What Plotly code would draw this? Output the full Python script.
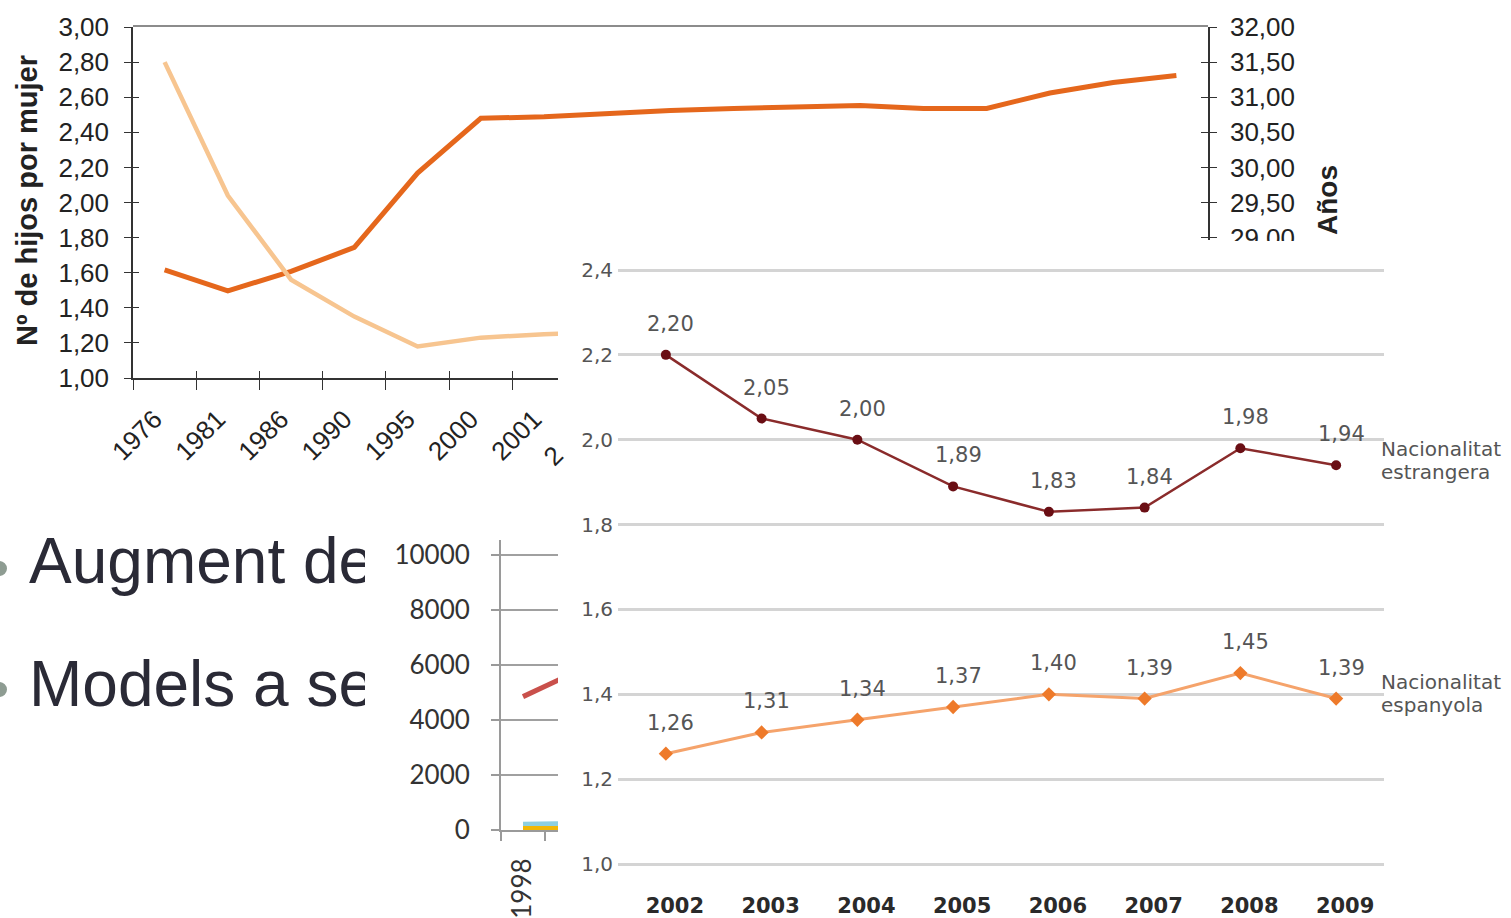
import plotly.graph_objects as go

W, H = 1511, 918

# ---------------- data ----------------
top_years = ["1976", "1981", "1986", "1990", "1995", "2000", "2001", "2002", "2003",
             "2004", "2005", "2006", "2007", "2008", "2009", "2010", "2011"]
edad_media = [28.54, 28.24, 28.52, 28.86, 29.92, 30.70, 30.72, 30.77, 30.81,
              30.84, 30.86, 30.88, 30.84, 30.84, 31.06, 31.21, 31.31]
hijos_years = ["1976", "1981", "1986", "1990", "1995", "2000", "2001", "2002"]
hijos_por_mujer = [2.80, 2.04, 1.56, 1.35, 1.18, 1.23, 1.25, 1.26]

mid_years = ["1998", "1999"]
mid_red = [4850, 5600]
mid_blue = [210, 230]
mid_yellow = [50, 60]
mid_ticks = [0, 2000, 4000, 6000, 8000, 10000]

front_years = ["2002", "2003", "2004", "2005", "2006", "2007", "2008", "2009"]
estrangera = [2.20, 2.05, 2.00, 1.89, 1.83, 1.84, 1.98, 1.94]
espanyola = [1.26, 1.31, 1.34, 1.37, 1.40, 1.39, 1.45, 1.39]

bullets = ["Augment de", "Models a se"]


# ---------------- helpers ----------------
def dx(a, b):
    return [a / W, b / W]


def dy(top, bottom):
    return [1 - bottom / H, 1 - top / H]


def px(x):
    return x / W


def py(y):
    return 1 - y / H


TOPF = "Liberation Sans, Arial, sans-serif"
FRF = "DejaVu Sans, Verdana, sans-serif"
MIDF = "Lato, sans-serif"

fig = go.Figure()

# ---------- top chart ----------
fig.add_trace(go.Scatter(x=top_years, y=edad_media, mode="lines", xaxis="x", yaxis="y",
                         line=dict(color="#E5671C", width=5), showlegend=False, hoverinfo="skip"))
fig.add_trace(go.Scatter(x=hijos_years, y=hijos_por_mujer, mode="lines", xaxis="x2", yaxis="y2",
                         line=dict(color="#F7C590", width=4.5), showlegend=False, hoverinfo="skip"))
# empty traces to register the pure-axis subplots
for xa, ya in [("x", "y3"), ("x", "y5"), ("x2", "y4"), ("x3", "y2")]:
    fig.add_trace(go.Scatter(x=[None], y=[None], xaxis=xa, yaxis=ya, showlegend=False,
                             hoverinfo="skip", mode="lines"))

# ---------- middle-left chart ----------
for vals, col in [(mid_red, "#C9504B"), (mid_blue, "#8DCFE0"), (mid_yellow, "#F2B705")]:
    fig.add_trace(go.Scatter(x=mid_years, y=vals, mode="lines", xaxis="x5", yaxis="y7",
                             line=dict(color=col, width=5), showlegend=False, hoverinfo="skip"))

# ---------- bullet text (clipped) ----------
fig.add_trace(go.Scatter(x=[29, 29], y=[567, 690], text=bullets, mode="text",
                         textposition="middle right", xaxis="x6", yaxis="y8",
                         textfont=dict(family=TOPF, size=64, color="#2A2A36"),
                         cliponaxis=True, showlegend=False, hoverinfo="skip"))

# ---------- front chart ----------
fig.add_trace(go.Scatter(x=front_years, y=estrangera, mode="lines+markers", xaxis="x4", yaxis="y6",
                         line=dict(color="#8A2B2B", width=2.5),
                         marker=dict(color="#6A0E14", size=10, symbol="circle"),
                         showlegend=False, hoverinfo="skip"))
fig.add_trace(go.Scatter(x=front_years, y=espanyola, mode="lines+markers", xaxis="x4", yaxis="y6",
                         line=dict(color="#F5A36B", width=3),
                         marker=dict(color="#EE7A2A", size=11, symbol="diamond"),
                         showlegend=False, hoverinfo="skip"))

annotations = []
for series in (estrangera, espanyola):
    for i, v in enumerate(series):
        annotations.append(dict(x=i, y=v, xref="x4", yref="y6", text=f"{v:.2f}".replace(".", ","),
                                showarrow=False, yshift=31, xshift=5,
                                font=dict(family=FRF, size=21, color="#555555")))

for txt, yy in [("Nacionalitat", 449), ("estrangera", 472), ("Nacionalitat", 682), ("espanyola", 705)]:
    annotations.append(dict(x=px(1379), y=py(yy), xref="paper", yref="paper", text=txt,
                            xanchor="left", yanchor="middle", showarrow=False,
                            font=dict(family=FRF, size=20, color="#555555")))

annotations.append(dict(x=px(27), y=py(201), xref="paper", yref="paper", text="<b>Nº de hijos por mujer</b>",
                        textangle=-90, showarrow=False, xanchor="center", yanchor="middle",
                        font=dict(family=TOPF, size=29, color="#222222")))
annotations.append(dict(x=px(1327), y=py(200), xref="paper", yref="paper", text="<b>Años</b>",
                        textangle=-90, showarrow=False, xanchor="center", yanchor="middle",
                        font=dict(family=TOPF, size=28, color="#222222")))
annotations.append(dict(x=px(553), y=py(456), xref="paper", yref="paper", text="2",
                        textangle=-45, showarrow=False, xanchor="center", yanchor="middle",
                        font=dict(family=TOPF, size=26, color="#222222")))

shapes = [
    # bullets
    dict(type="circle", xref="paper", yref="paper", x0=px(-8), x1=px(7), y0=py(576), y1=py(561),
         fillcolor="#8E9C92", line=dict(width=0)),
    dict(type="circle", xref="paper", yref="paper", x0=px(-8), x1=px(7), y0=py(697), y1=py(682),
         fillcolor="#8E9C92", line=dict(width=0)),
    # front chart edge cutting the right-axis label
    dict(type="rect", xref="paper", yref="paper", x0=px(1195), x1=px(1312), y0=py(262), y1=py(241),
         fillcolor="white", line=dict(width=0), layer="above"),
]

top_tick = dict(family=TOPF, size=26, color="#222222")
n_top = len(top_years)
cat_w = (1208 - 133) / n_top
x2_hi = -0.5 + (558 - 133) / cat_w
ppu_r = (378 - 27) / 5.0
y3_lo = 32 - (240 - 27) / ppu_r
mid_cat = 44.0
x5_hi = -0.5 + (558 - 501) / mid_cat
ppu_f = (864 - 270) / 1.4
f_lo = 1.0 - (868 - 864) / ppu_f
f_hi = 2.4 + (270 - 266) / ppu_f

fig.update_layout(
    template="none",
    width=W, height=H, margin=dict(l=0, r=0, t=0, b=0, pad=0, autoexpand=False),
    paper_bgcolor="white", plot_bgcolor="rgba(0,0,0,0)",
    separators=",.", showlegend=False,
    annotations=annotations, shapes=shapes,
    # top chart: full-width category axis (top frame line)
    xaxis=dict(domain=dx(133, 1208), type="category", categoryorder="array", categoryarray=top_years,
               range=[-0.5, n_top - 0.5], anchor="y", side="top", showline=True, linecolor="#8C8C8C",
               linewidth=2, showticklabels=False, ticks="", showgrid=False, zeroline=False),
    yaxis=dict(domain=dy(27, 378), range=[27, 32], anchor="x", visible=False),
    # right axis (visible part)
    yaxis3=dict(domain=dy(27, 240), range=[y3_lo, 32], anchor="x", side="right", showline=True,
                linecolor="#333333", linewidth=1.5, ticks="outside", ticklen=7, tickcolor="#333333",
                dtick=0.5, tick0=29, tickformat=".2f", tickfont=top_tick, showgrid=False, zeroline=False,
                ticklabelstandoff=8),
    yaxis5=dict(overlaying="y3", range=[y3_lo, 32], anchor="x", side="right", showline=False,
                ticks="inside", ticklen=7, tickcolor="#333333", dtick=0.5, tick0=29,
                showticklabels=False, showgrid=False, zeroline=False),
    # left/bottom axes (visible part)
    xaxis2=dict(domain=dx(133, 558), type="category", categoryorder="array", categoryarray=top_years,
                range=[-0.5, x2_hi], anchor="y2", showline=True, linecolor="#333333", linewidth=1.5,
                ticks="outside", tickson="boundaries", ticklen=10, tickcolor="#333333", tickangle=-45,
                tickfont=top_tick, showgrid=False, zeroline=False, ticklabelstandoff=14,
                ticklabelshift=-10),
    xaxis3=dict(overlaying="x2", range=[-0.5, x2_hi], anchor="y2", ticks="inside", ticklen=7,
                tickcolor="#333333", tickvals=[i - 0.5 for i in range(n_top + 1)],
                showticklabels=False, showgrid=False, zeroline=False, showline=False),
    yaxis2=dict(domain=dy(27, 378), range=[1, 3], anchor="x2", side="left", showline=True,
                linecolor="#333333", linewidth=1.5, ticks="outside", ticklen=7, tickcolor="#333333",
                dtick=0.2, tick0=1, tickformat=".2f", tickfont=top_tick, showgrid=False, zeroline=False,
                ticklabelstandoff=10),
    yaxis4=dict(overlaying="y2", range=[1, 3], anchor="x2", side="left", ticks="inside", ticklen=6,
                tickcolor="#333333", dtick=0.2, tick0=1, showticklabels=False, showgrid=False,
                zeroline=False, showline=False),
    # middle-left chart
    xaxis5=dict(domain=dx(501, 558), type="category", categoryorder="array", categoryarray=mid_years,
                range=[-0.5, x5_hi], anchor="y7", showline=True, linecolor="#9A9A9A", linewidth=2,
                ticks="outside", tickson="boundaries", ticklen=9, tickcolor="#9A9A9A", tickwidth=2,
                tickangle=-90, tickfont=dict(family=MIDF, size=26, color="#333333"),
                showgrid=False, zeroline=False, ticklabelstandoff=16),
    yaxis7=dict(domain=dy(540, 830), range=[0, 10545], anchor="x5", showline=True, linecolor="#9A9A9A",
                linewidth=2, ticks="outside", ticklen=8, tickcolor="#9A9A9A", tickwidth=2,
                tickvals=mid_ticks, tickformat="d", tickfont=dict(family=MIDF, size=26, color="#333333"),
                showgrid=True, gridcolor="#A0A0A0", gridwidth=1.5, zeroline=False, ticklabelstandoff=16),
    # bullet text clip region
    xaxis6=dict(domain=dx(0, 365), range=[0, 365], anchor="y8", visible=False),
    yaxis8=dict(domain=dy(520, 760), range=[760, 520], anchor="x6", visible=False),
    # front chart
    xaxis4=dict(domain=dx(618, 1384), type="category", categoryorder="array", categoryarray=front_years,
                range=[-0.5, len(front_years) - 0.5], anchor="y6", showline=False, ticks="",
                tickfont=dict(family=FRF, size=21, color="#2A2A2A", weight="bold"),
                showgrid=False, zeroline=False, ticklabelstandoff=23, ticklabelshift=9),
    yaxis6=dict(domain=dy(266, 868), range=[f_lo, f_hi], anchor="x4", showline=False, ticks="",
                dtick=0.2, tick0=1.0, tickformat=".1f", tickfont=dict(family=FRF, size=20, color="#555555"),
                showgrid=True, gridcolor="#D4D4D4", gridwidth=3, zeroline=False, ticklabelstandoff=4),
)

for k in list(fig.layout.to_plotly_json().keys()):
    if k.startswith("xaxis") or k.startswith("yaxis"):
        fig.layout[k].automargin = False

fig.write_html(
    "out.html",
    config={"displayModeBar": False},
    post_script="document.body.style.margin='0';document.body.style.overflow='hidden';",
)
